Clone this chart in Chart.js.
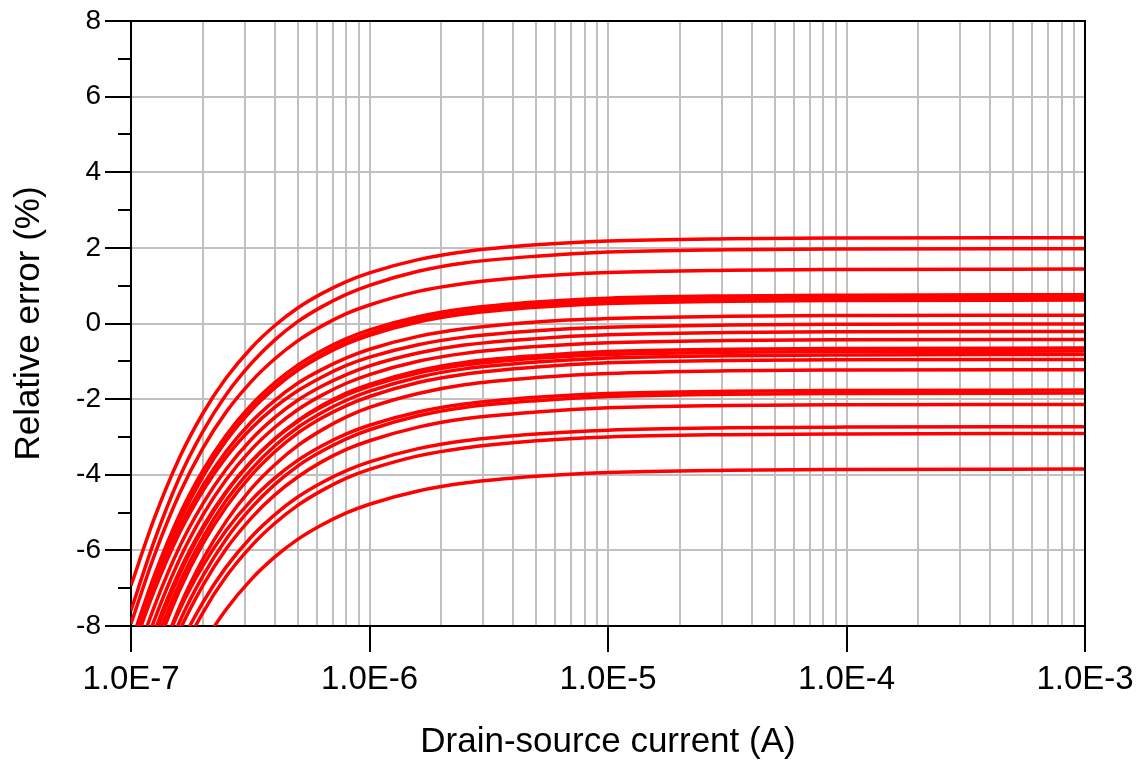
<!DOCTYPE html>
<html>
<head>
<meta charset="utf-8">
<script src="https://cdn.jsdelivr.net/npm/chart.js@4"></script>
<style>
  html, body { margin: 0; padding: 0; background: #ffffff; }
  #wrap { width: 1148px; height: 764px; }
</style>
</head>
<body>
<div id="wrap"><canvas id="c" width="1148" height="764"></canvas></div>
<script>
// Drain-source current sample points (A)
const currents = [1e-7, 1.25e-7, 1.6e-7, 2e-7, 2.5e-7, 3.2e-7, 4e-7, 5e-7, 6.3e-7, 8e-7, 1e-6, 1.6e-6, 2.5e-6, 5e-6, 1e-5, 3.2e-5, 1e-4, 1e-3];

// Relative error (%) of each curve at the currents above
const curve01 = [-6.93, -5.17, -3.54, -2.38, -1.45, -0.64, -0.06, 0.41, 0.79, 1.11, 1.34, 1.69, 1.90, 2.08, 2.18, 2.24, 2.26, 2.27];
const curve02 = [-7.59, -5.76, -4.06, -2.86, -1.89, -1.05, -0.44, 0.05, 0.44, 0.77, 1.01, 1.38, 1.60, 1.78, 1.89, 1.95, 1.97, 1.98];
const curve03 = [-7.94, -6.15, -4.49, -3.30, -2.35, -1.53, -0.94, -0.46, -0.07, 0.26, 0.49, 0.85, 1.06, 1.25, 1.35, 1.41, 1.43, 1.44];
const curve04 = [-8.44, -6.68, -5.05, -3.89, -2.96, -2.15, -1.57, -1.10, -0.72, -0.40, -0.17, 0.18, 0.39, 0.57, 0.67, 0.73, 0.75, 0.76];
const curve05 = [-8.69, -6.90, -5.24, -4.05, -3.10, -2.28, -1.69, -1.21, -0.82, -0.49, -0.26, 0.10, 0.31, 0.50, 0.60, 0.66, 0.68, 0.69];
const curve06 = [-8.58, -6.82, -5.19, -4.03, -3.10, -2.29, -1.71, -1.24, -0.86, -0.54, -0.31, 0.04, 0.25, 0.43, 0.53, 0.59, 0.61, 0.62];
const curve07 = [-8.70, -7.00, -5.42, -4.29, -3.39, -2.60, -2.04, -1.58, -1.22, -0.91, -0.68, -0.34, -0.14, 0.04, 0.13, 0.19, 0.21, 0.22];
const curve08 = [-8.75, -7.08, -5.53, -4.43, -3.54, -2.77, -2.22, -1.78, -1.42, -1.11, -0.89, -0.56, -0.36, -0.19, -0.10, -0.04, -0.02, -0.01];
const curve09 = [-9.23, -7.50, -5.90, -4.77, -3.86, -3.06, -2.49, -2.03, -1.66, -1.35, -1.12, -0.78, -0.57, -0.40, -0.30, -0.24, -0.22, -0.21];
const curve10 = [-9.62, -7.86, -6.23, -5.07, -4.14, -3.33, -2.75, -2.28, -1.90, -1.58, -1.35, -1.00, -0.79, -0.61, -0.51, -0.45, -0.43, -0.42];
const curve11 = [-10.13, -8.31, -6.63, -5.44, -4.48, -3.65, -3.05, -2.57, -2.17, -1.84, -1.61, -1.25, -1.03, -0.85, -0.74, -0.68, -0.66, -0.65];
const curve12 = [-9.93, -8.17, -6.54, -5.38, -4.45, -3.64, -3.06, -2.59, -2.21, -1.89, -1.66, -1.31, -1.10, -0.92, -0.82, -0.76, -0.74, -0.73];
const curve13 = [-10.39, -8.56, -6.86, -5.66, -4.69, -3.85, -3.24, -2.75, -2.36, -2.03, -1.79, -1.42, -1.20, -1.02, -0.91, -0.85, -0.83, -0.82];
const curve14 = [-10.61, -8.76, -7.05, -5.83, -4.86, -4.01, -3.40, -2.90, -2.50, -2.17, -1.93, -1.56, -1.34, -1.15, -1.04, -0.98, -0.96, -0.95];
const curve15 = [-11.16, -9.26, -7.49, -6.24, -5.24, -4.36, -3.74, -3.23, -2.82, -2.47, -2.22, -1.85, -1.62, -1.43, -1.32, -1.25, -1.23, -1.22];
const curve16 = [-10.96, -9.20, -7.57, -6.41, -5.48, -4.67, -4.09, -3.62, -3.24, -2.92, -2.69, -2.34, -2.13, -1.95, -1.85, -1.79, -1.77, -1.76];
const curve17 = [-11.41, -9.58, -7.88, -6.68, -5.71, -4.87, -4.26, -3.77, -3.38, -3.05, -2.81, -2.44, -2.22, -2.04, -1.93, -1.87, -1.85, -1.84];
const curve18 = [-11.62, -9.80, -8.12, -6.93, -5.97, -5.14, -4.54, -4.06, -3.66, -3.33, -3.10, -2.74, -2.52, -2.34, -2.23, -2.17, -2.15, -2.14];
const curve19 = [-11.93, -10.17, -8.54, -7.38, -6.45, -5.64, -5.06, -4.59, -4.21, -3.89, -3.66, -3.31, -3.10, -2.92, -2.82, -2.76, -2.74, -2.73];
const curve20 = [-12.29, -10.50, -8.84, -7.65, -6.70, -5.88, -5.29, -4.81, -4.42, -4.09, -3.86, -3.50, -3.29, -3.10, -3.00, -2.94, -2.92, -2.91];
const curve21 = [-13.05, -11.29, -9.66, -8.50, -7.57, -6.76, -6.18, -5.71, -5.33, -5.01, -4.78, -4.43, -4.22, -4.04, -3.94, -3.88, -3.86, -3.85];

const curves = [curve01, curve02, curve03, curve04, curve05, curve06, curve07,
                curve08, curve09, curve10, curve11, curve12, curve13, curve14,
                curve15, curve16, curve17, curve18, curve19, curve20, curve21];

// Axis ticks
const xDecades = [1e-7, 1e-6, 1e-5, 1e-4, 1e-3];
const xTickLabels = ['1.0E-7', '1.0E-6', '1.0E-5', '1.0E-4', '1.0E-3'];
const xGridMultipliers = [1, 2, 3, 4, 5, 6, 7, 8, 9];
const yMin = -8, yMax = 8, yStep = 2;
const yMinorTicks = [-7, -5, -3, -1, 1, 3, 5, 7];

const FONT = "'Liberation Sans', Arial, sans-serif";
const GRID = '#c0c0c0';

function decadeIndex(v) {
  for (let i = 0; i < xDecades.length; i++) {
    if (Math.abs(Math.log10(v) - Math.log10(xDecades[i])) < 1e-6) return i;
  }
  return -1;
}

const xGridValues = [];
xDecades.forEach((d, i) => {
  if (i === xDecades.length - 1) { xGridValues.push(d); return; }
  xGridMultipliers.forEach(m => xGridValues.push(parseFloat((m * d).toPrecision(3))));
});

const datasets = curves.map((vals) => ({
  data: currents.map((x, i) => ({ x: x, y: vals[i] })),
  borderColor: '#ff0000',
  backgroundColor: '#ff0000',
  borderWidth: 3.5,
  pointRadius: 0,
  fill: false,
  cubicInterpolationMode: 'monotone',
  clip: 0
}));

const framePlugin = {
  id: 'frame',
  afterDatasetsDraw(chart) {
    const { ctx, chartArea: a, scales } = chart;
    const y = scales.y;
    ctx.save();
    ctx.strokeStyle = '#000000';
    ctx.lineWidth = 2;
    ctx.beginPath();
    ctx.moveTo(a.left, a.top);
    ctx.lineTo(a.right, a.top);
    ctx.lineTo(a.right, a.bottom);
    ctx.stroke();
    ctx.beginPath();
    yMinorTicks.forEach(v => {
      const py = Math.round(y.getPixelForValue(v));
      ctx.moveTo(a.left - 13, py);
      ctx.lineTo(a.left, py);
    });
    ctx.stroke();
    ctx.restore();
  }
};

new Chart(document.getElementById('c'), {
  type: 'line',
  data: { datasets: datasets },
  options: {
    responsive: false,
    devicePixelRatio: 1,
    animation: false,
    events: [],
    layout: { padding: { left: 0, top: 21, right: 63, bottom: 0 } },
    plugins: { legend: { display: false }, tooltip: { enabled: false } },
    scales: {
      x: {
        type: 'logarithmic',
        min: xDecades[0],
        max: xDecades[xDecades.length - 1],
        afterBuildTicks(scale) { scale.ticks = xGridValues.map(v => ({ value: v })); },
        afterFit(scale) { scale.height = 138; },
        grid: {
          color: GRID,
          lineWidth: 2,
          drawTicks: true,
          tickLength: 26,
          tickWidth: 2,
          tickColor: (ctx) => (ctx.tick && decadeIndex(ctx.tick.value) >= 0) ? '#000000' : 'rgba(0,0,0,0)'
        },
        border: { display: true, color: '#000000', width: 2 },
        ticks: {
          autoSkip: false,
          maxRotation: 0,
          minRotation: 0,
          padding: 8,
          color: '#000000',
          font: { family: FONT, size: 33 },
          callback: (value) => { const i = decadeIndex(value); return i >= 0 ? xTickLabels[i] : ''; }
        },
        title: {
          display: true,
          text: 'Drain-source current (A)',
          color: '#000000',
          font: { family: FONT, size: 35 },
          padding: { top: 0, bottom: 1 }
        }
      },
      y: {
        type: 'linear',
        min: yMin,
        max: yMax,
        afterFit(scale) { scale.width = 131; },
        grid: {
          color: GRID,
          lineWidth: 2,
          drawTicks: true,
          tickLength: 26,
          tickWidth: 2,
          tickColor: '#000000'
        },
        border: { display: true, color: '#000000', width: 2 },
        ticks: {
          stepSize: yStep,
          padding: 4,
          color: '#000000',
          font: { family: FONT, size: 28 },
          callback: (value) => String(value)
        },
        title: {
          display: true,
          text: 'Relative error (%)',
          color: '#000000',
          font: { family: FONT, size: 35 },
          padding: { top: 8, bottom: 0 }
        }
      }
    }
  },
  plugins: [framePlugin]
});
</script>
</body>
</html>
